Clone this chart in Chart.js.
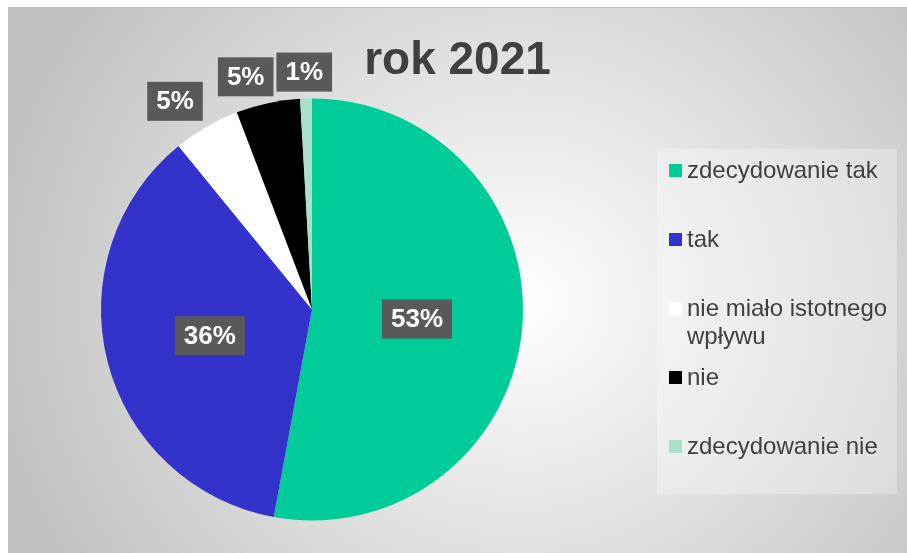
<!DOCTYPE html>
<html lang="pl">
<head>
<meta charset="utf-8">
<title>rok 2021</title>
<script src="https://cdn.jsdelivr.net/npm/chart.js@4.4.0/dist/chart.umd.min.js"></script>
<style>
  html, body { margin: 0; padding: 0; background: #fff; }
  body { width: 907px; height: 553px; position: relative; overflow: hidden;
         font-family: "Liberation Sans", Arial, sans-serif; }
  #tlo { position: absolute; left: 8px; top: 7px; right: 0; bottom: 0;
         border-top: 1px solid #bcbcbc;
         background: radial-gradient(ellipse 530px 500px at 512px 293px, #ffffff 0%, #c2c2c2 100%); }
  #wykres { position: absolute; left: 0; top: 0; }
  #legenda { position: absolute; left: 657px; top: 149px; width: 240px; height: 345px;
             background: rgba(255, 255, 255, 0.3); }
  .poz { position: absolute; left: 12px; width: 228px; padding-left: 18px; box-sizing: border-box;
         font-size: 24px; line-height: 28px; color: #404040; }
  .kw { position: absolute; left: 0; top: 8px; width: 12.7px; height: 12.7px; }
</style>
</head>
<body>
<div id="tlo"></div>
<canvas id="wykres" width="907" height="553"></canvas>
<div id="legenda"></div>

<script>
// dane (procenty)
const kategorie = ['zdecydowanie tak', 'tak', 'nie miało istotnego wpływu', 'nie', 'zdecydowanie nie'];
const wartosci = [52.9, 36.2, 5.1, 4.9, 0.9];
const tytul = 'rok 2021';

// kolory wycinków
const kolory = ['#00CC99', '#3333CC', '#FFFFFF', '#000000', '#A9E0CA'];

// legenda w HTML, budowana z tablic
const legenda = document.getElementById('legenda');
kategorie.forEach((nazwa, i) => {
    const poz = document.createElement('div');
    poz.className = 'poz';
    poz.style.top = (7 + i * 69) + 'px';
    const kw = document.createElement('span');
    kw.className = 'kw';
    kw.style.background = kolory[i];
    poz.appendChild(kw);
    poz.appendChild(document.createTextNode(nazwa));
    legenda.appendChild(poz);
});

const ogr = v => Math.max(-1, Math.min(1, v));

// etykiety danych w szarych prostokątach + tytuł
const etykietyPlugin = {
    id: 'etykiety',
    afterDatasetsDraw(chart) {
        const ctx = chart.ctx;
        const meta = chart.getDatasetMeta(0);
        ctx.save();
        ctx.font = 'bold 26px "Liberation Sans", Arial, sans-serif';
        const pudelka = [];
        meta.data.forEach((luk, i) => {
            const p = luk.getProps(['x', 'y', 'startAngle', 'endAngle', 'outerRadius'], true);
            const kat = (p.startAngle + p.endAngle) / 2;
            const tekst = Math.round(wartosci[i]) + '%';
            const w = ctx.measureText(tekst).width + 18;
            const h = 39;
            const dx = Math.cos(kat), dy = Math.sin(kat);
            const zewn = wartosci[i] < 10;
            let cx, cy;
            if (!zewn) {
                cx = p.x + dx * p.outerRadius * 0.5;
                cy = p.y + dy * p.outerRadius * 0.5;
            } else {
                const ax = p.x + dx * (p.outerRadius + 7);
                const ay = p.y + dy * (p.outerRadius + 7);
                cx = ax + ogr(dx * 2) * w / 2;
                cy = ay + ogr(dy * 2) * h / 2;
            }
            pudelka[i] = { cx, cy, w, h, tekst, zewn };
        });

        // odsuwanie nachodzących na siebie etykiet zewnętrznych
        let poprz = null;
        for (let i = pudelka.length - 1; i >= 0; i--) {
            const b = pudelka[i];
            if (!b.zewn) continue;
            if (poprz && Math.abs(b.cx - poprz.cx) < (b.w + poprz.w) / 2 &&
                Math.abs(b.cy - poprz.cy) < (b.h + poprz.h) / 2) {
                b.cx = poprz.cx - poprz.w / 2 - 3 - b.w / 2;
            }
            poprz = b;
        }

        ctx.textAlign = 'center';
        ctx.textBaseline = 'middle';
        pudelka.forEach(b => {
            ctx.fillStyle = '#595959';
            ctx.fillRect(b.cx - b.w / 2, b.cy - b.h / 2, b.w, b.h);
            ctx.fillStyle = '#FFFFFF';
            ctx.fillText(b.tekst, b.cx, b.cy + 1);
        });

        // tytuł wyśrodkowany nad całą ramką
        ctx.font = 'bold 46px "Liberation Sans", Arial, sans-serif';
        ctx.fillStyle = '#404040';
        ctx.textBaseline = 'alphabetic';
        ctx.fillText(tytul, (8 + chart.width) / 2, 74);
        ctx.restore();
    }
};

new Chart(document.getElementById('wykres'), {
    type: 'pie',
    data: {
        labels: kategorie,
        datasets: [{
            data: wartosci,
            backgroundColor: kolory,
            borderWidth: 0
        }]
    },
    options: {
        responsive: false,
        animation: false,
        layout: { padding: { left: 101, right: 384, top: 98.5, bottom: 32.5 } },
        plugins: {
            legend: { display: false },
            tooltip: { enabled: false },
            title: { display: false }
        }
    },
    plugins: [etykietyPlugin]
});
</script>
</body>
</html>
